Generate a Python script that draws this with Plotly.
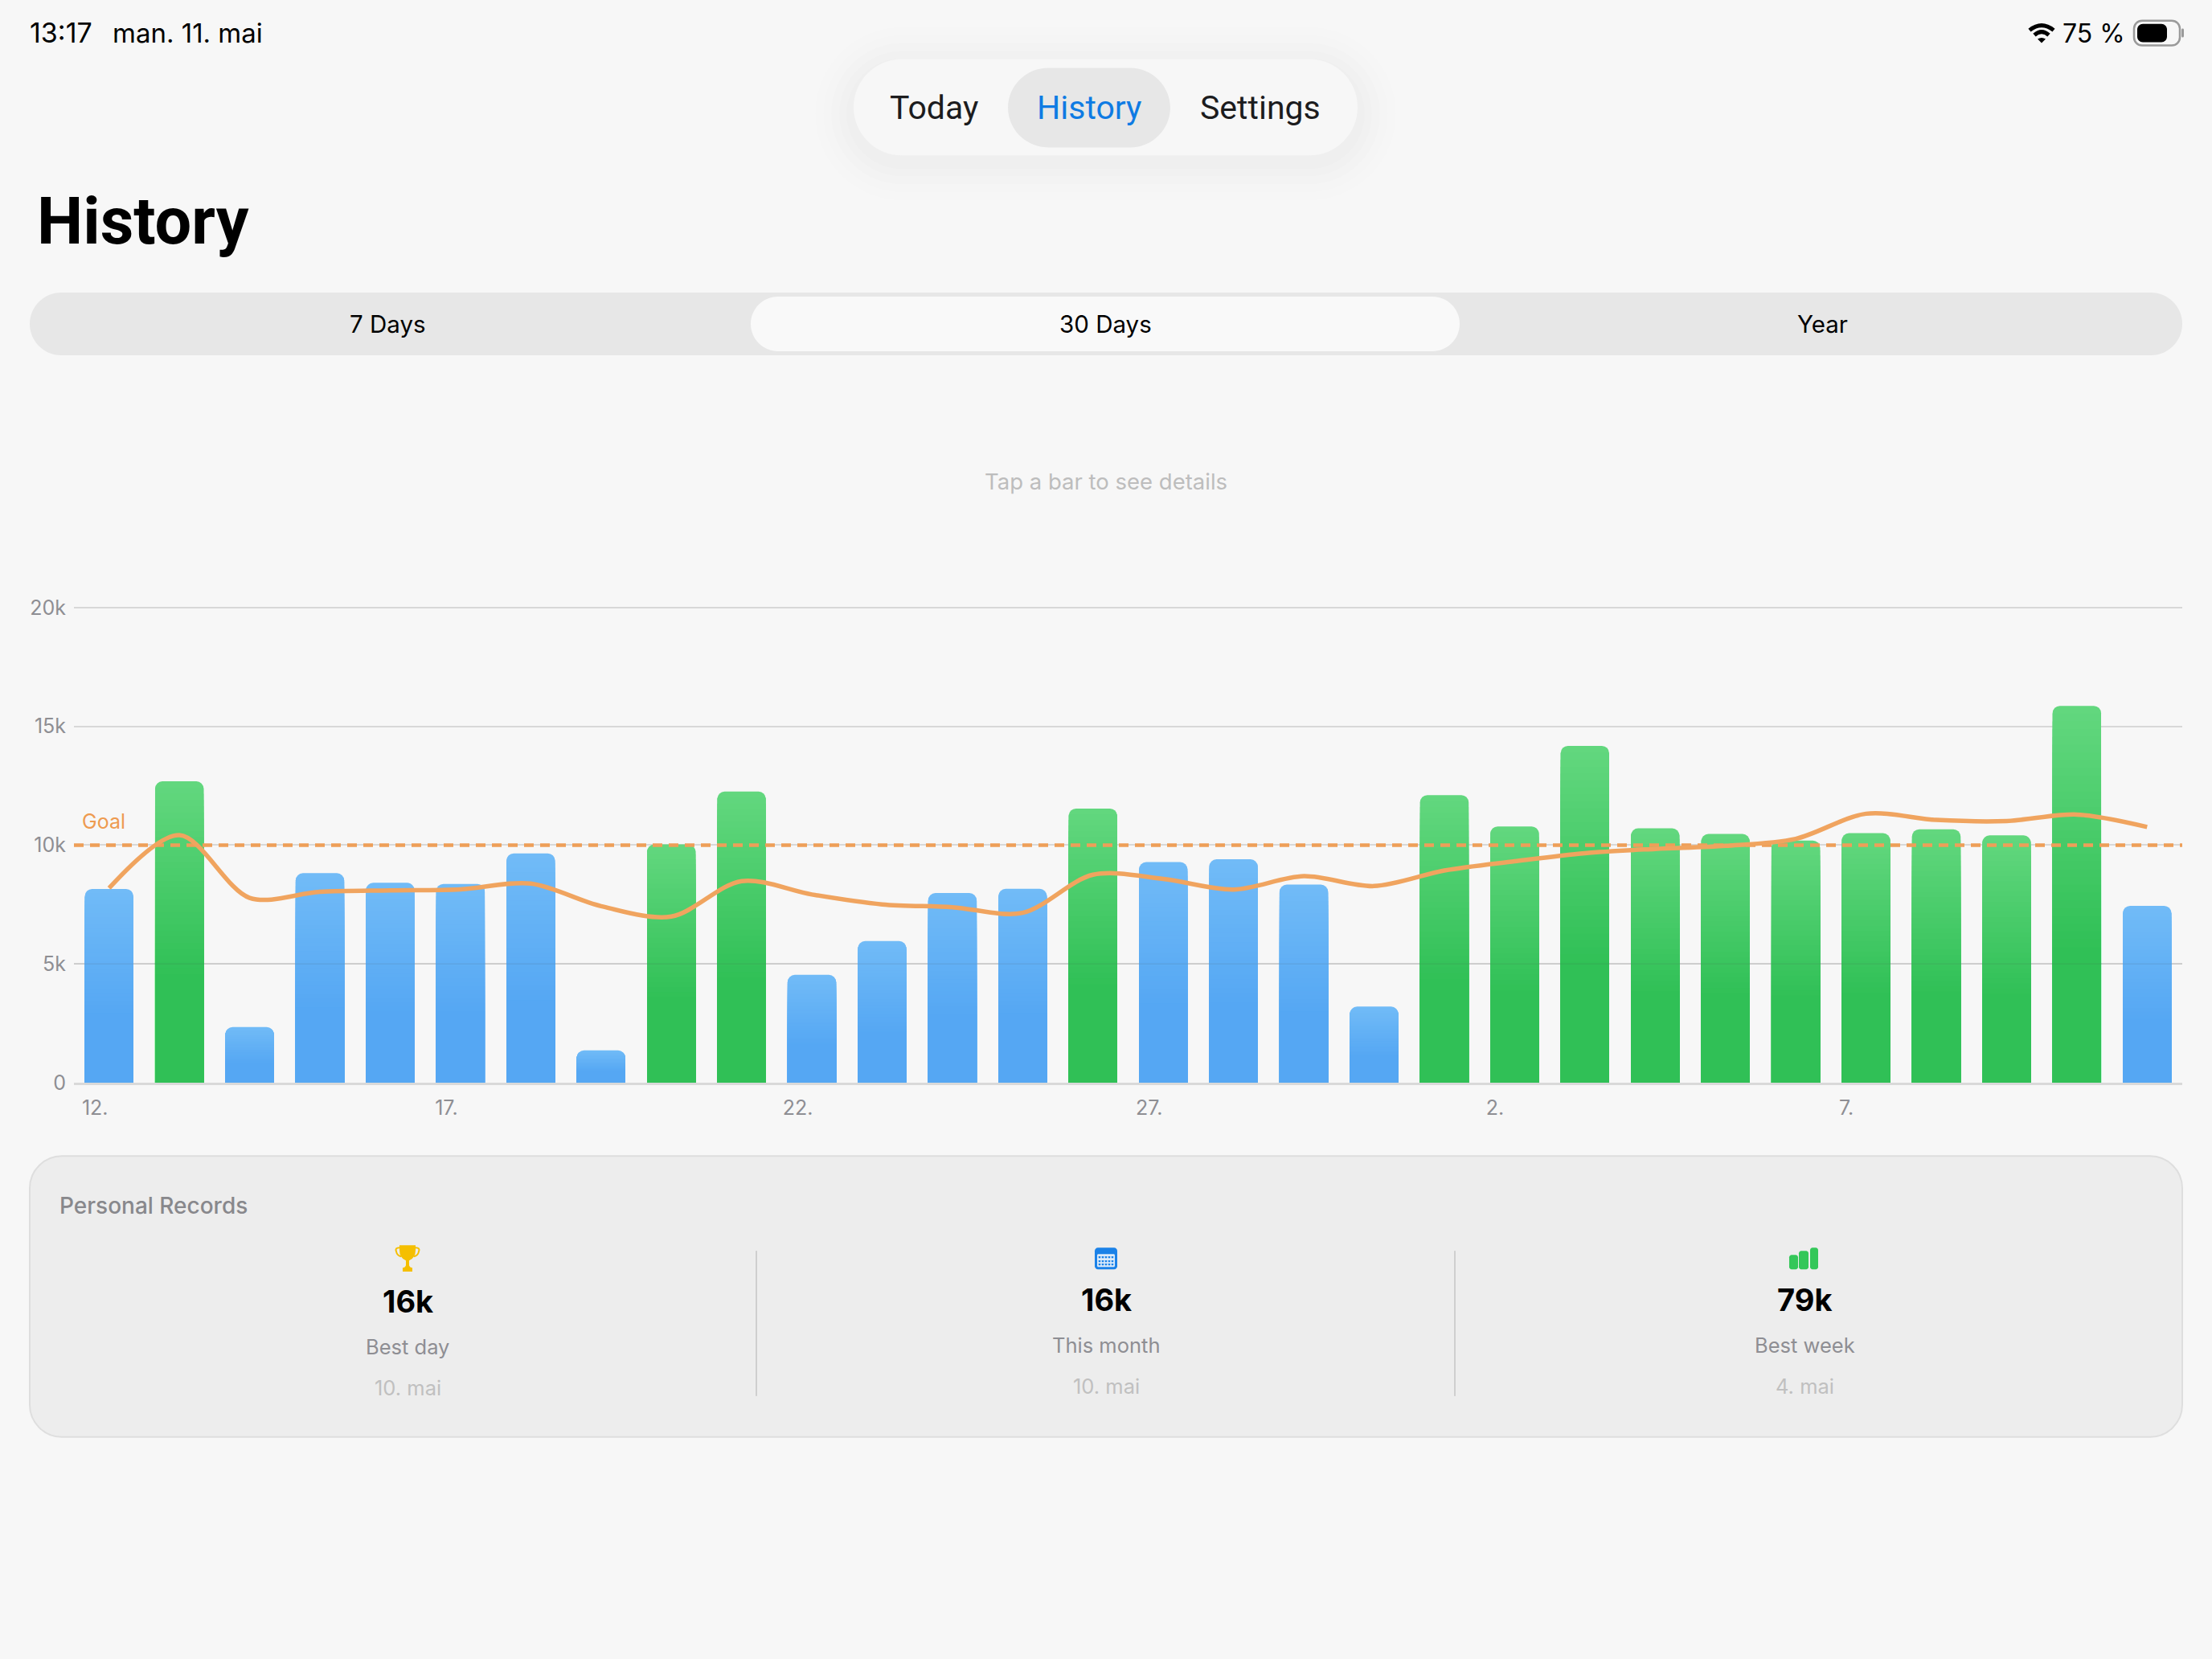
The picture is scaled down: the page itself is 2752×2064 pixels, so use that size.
import plotly.graph_objects as go

# ---- data ----
days = ["12. apr", "13. apr", "14. apr", "15. apr", "16. apr", "17. apr", "18. apr", "19. apr", "20. apr", "21. apr",
        "22. apr", "23. apr", "24. apr", "25. apr", "26. apr", "27. apr", "28. apr", "29. apr", "30. apr", "1. mai",
        "2. mai", "3. mai", "4. mai", "5. mai", "6. mai", "7. mai", "8. mai", "9. mai", "10. mai", "11. mai"]
steps = [8157, 12689, 2341, 8822, 8414, 8369, 9653, 1360, 10030, 12255,
         4540, 5964, 7982, 8160, 11543, 9288, 9406, 8338, 3205, 12107,
         10790, 14180, 10707, 10470, 10197, 10505, 10671, 10410, 15865, 7446]
trend = [8190, 10423, 7780, 8036, 8097, 8142, 8384, 7432, 6994, 8487,
         7923, 7507, 7389, 7151, 8754, 8576, 8130, 8694, 8279, 8932,
         9320, 9663, 9841, 9972, 10268, 11323, 11062, 11015, 11287, 10766]
goal = 10000
y_ticks = [0, 5000, 10000, 15000, 20000]
y_tick_text = ["0", "5k", "10k", "15k", "20k"]
x_tick_days = ["12.", "17.", "22.", "27.", "2.", "7."]
x_tick_index = [0, 5, 10, 15, 20, 25]

W, H = 2752, 2064
Y_TOP = 20100
L, R, T, B = 92, 2715, 1347.5 - 592 * Y_TOP / 20000, 1347.5
FONT = "Inter"
FONT2 = "Roboto"
BG = "#F7F7F7"


def px(x):
    return (x - L) / (R - L)


def py(y):
    return (B - y) / (B - T)


def P(x, y):
    return f"{px(x):.6f},{py(y):.6f}"


def rr_path(x0, y0, x1, y1, r):
    k = r * 0.448
    return (f"M{P(x0 + r, y0)} L{P(x1 - r, y0)} C{P(x1 - k, y0)} {P(x1, y0 + k)} {P(x1, y0 + r)} "
            f"L{P(x1, y1 - r)} C{P(x1, y1 - k)} {P(x1 - k, y1)} {P(x1 - r, y1)} "
            f"L{P(x0 + r, y1)} C{P(x0 + k, y1)} {P(x0, y1 - k)} {P(x0, y1 - r)} "
            f"L{P(x0, y0 + r)} C{P(x0, y0 + k)} {P(x0 + k, y0)} {P(x0 + r, y0)} Z")


shapes = []


def add_rr(x0, y0, x1, y1, r, fill, line=None, lw=0):
    shapes.append(dict(type="path", path=rr_path(x0, y0, x1, y1, r), xref="paper", yref="paper",
                       fillcolor=fill, line=dict(color=line or "rgba(0,0,0,0)", width=lw), layer="below"))


def add_path(cmds, fill=None, line=None, lw=0):
    shapes.append(dict(type="path", path=cmds, xref="paper", yref="paper",
                       fillcolor=fill or "rgba(0,0,0,0)", line=dict(color=line or "rgba(0,0,0,0)", width=lw),
                       layer="below"))


annotations = []


def text(x, y, s, size, color, anchor="center", weight=400, family=FONT):
    annotations.append(dict(x=px(x), y=py(y), xref="paper", yref="paper", text=s, showarrow=False,
                            xanchor=anchor, yanchor="middle", borderpad=0, borderwidth=0,
                            font=dict(family=family, size=size, color=color, weight=weight)))


# status bar
text(37, 39, "13:17", 34, "#000000", "left")
text(140, 39, "man. 11. mai", 33, "#000000", "left")
text(2566, 40, "75 %", 32, "#000000", "left")
add_path(f"M{P(2525, 36)} Q{P(2540, 24)} {P(2555, 36)}", line="#000000", lw=5)
add_path(f"M{P(2531, 42)} Q{P(2540, 34)} {P(2549, 42)}", line="#000000", lw=5)
add_path(f"M{P(2535, 47)} Q{P(2540, 44)} {P(2545, 47)} L{P(2540, 52)} Z", fill="#000000")
add_rr(2655, 24, 2712, 55, 10, "rgba(0,0,0,0)", "#9A9A9A", 2.5)
add_rr(2659, 28, 2696, 51, 7, "#000000")
add_rr(2714, 34, 2717, 45, 1.5, "#9A9A9A")

# floating tab bar
for grow, a in [(48, 0.004), (38, 0.005), (28, 0.006), (18, 0.007), (9, 0.008)]:
    add_rr(1062 - grow, 72 - grow + 8, 1689 + grow, 192 + grow + 8, 60 + grow, f"rgba(0,0,0,{a})")
add_rr(1062, 72, 1689, 192, 60, BG)
add_rr(1254, 83, 1456, 182, 50, "#E7E7E7")
text(1162, 133, "Today", 41, "#1C1C1E", family=FONT2)
text(1355, 133, "History", 41, "#0F7BE3", family=FONT2)
text(1568, 133, "Settings", 41, "#1C1C1E", family=FONT2)

# title
text(46, 274, "History", 81, "#000000", "left", weight=700, family=FONT2)

# segmented control
add_rr(37, 363, 2715, 441, 39, "#E7E7E7")
add_rr(934, 368, 1816, 436, 34, "#F9F9F9")
text(482, 402, "7 Days", 29.5, "#000000")
text(1375, 402, "30 Days", 29.5, "#000000")
text(2267, 402, "Year", 29.5, "#000000")

text(1376, 598, "Tap a bar to see details", 27.5, "#BDBDBD")
text(102, 1022, "Goal", 25, "#EE9B50", "left")

# records card
add_rr(37, 1439, 2715, 1789, 40, "#EDEDED", "#DEDEDE", 2)
text(74, 1501, "Personal Records", 28, "#88888C", "left", weight=500)
for x in (941, 1810):
    add_path(f"M{P(x, 1557)} L{P(x, 1738)}", line="#CFCFCF", lw=2)

gold = "#F5BF00"
add_path(f"M{P(497, 1550)} L{P(517, 1550)} L{P(517, 1556)} Q{P(517, 1566)} {P(509, 1569)} L{P(509, 1575)} "
         f"Q{P(510, 1578)} {P(513, 1578)} L{P(513, 1583)} L{P(501, 1583)} L{P(501, 1578)} "
         f"Q{P(504, 1578)} {P(505, 1575)} L{P(505, 1569)} Q{P(497, 1566)} {P(497, 1556)} Z", fill=gold)
add_path(f"M{P(497, 1553)} Q{P(491, 1553)} {P(493, 1558)} Q{P(494, 1563)} {P(499, 1564)}", line=gold, lw=2)
add_path(f"M{P(517, 1553)} Q{P(523, 1553)} {P(521, 1558)} Q{P(520, 1563)} {P(515, 1564)}", line=gold, lw=2)

blue = "#1B82E8"
add_rr(1362, 1553, 1390, 1580, 4, blue)
add_rr(1365, 1561, 1387, 1577, 1.5, "#DCEBFA")
for gy in (1565, 1570, 1574):
    for gx in (1368, 1372, 1376, 1380, 1384):
        add_rr(gx - 1.2, gy - 1.2, gx + 1.2, gy + 1.2, 0.3, blue)

green = "#34C759"
add_rr(2226, 1562, 2237, 1580, 3, green)
add_rr(2238, 1557, 2250, 1580, 3, green)
add_rr(2252, 1553, 2262, 1580, 3, green)

for cx, dy, val, lab, dat in [(507, 2, "16k", "Best day", "10. mai"),
                              (1376, 0, "16k", "This month", "10. mai"),
                              (2245, 0, "79k", "Best week", "4. mai")]:
    text(cx, 1618 + dy, val, 38, "#000000", weight=700)
    text(cx, 1675 + dy, lab, 25.5, "#8E8E93")
    text(cx, 1726 + dy, dat, 25.5, "#C0C0C0")

# ---- chart ----
x = list(range(len(steps)))


def mix(c0, c1, t):
    return "rgb(" + ",".join(str(round(a + (b - a) * t)) for a, b in zip(c0, c1)) + ")"


GREEN_TOP, GREEN_BASE = (98, 215, 126), (48, 192, 86)
BLUE_TOP, BLUE_BASE = (113, 187, 247), (85, 167, 243)
N = 32
SOLID = 0.36
fig = go.Figure()
for k in range(N):
    t = k / (N - 1)
    frac = 1 - t * (1 - SOLID)
    fig.add_trace(go.Bar(
        x=x, y=[v * frac for v in steps], width=0.69,
        marker=dict(color=[mix(GREEN_TOP, GREEN_BASE, t) if v >= goal else mix(BLUE_TOP, BLUE_BASE, t) for v in steps],
                    line=dict(width=0), cornerradius=9),
        showlegend=False, hoverinfo="skip"))

fig.add_trace(go.Scatter(x=[-0.5, len(steps) - 0.5], y=[goal, goal], mode="lines",
                         line=dict(color="#EE9F58", width=4.5, dash="12px,8px"), showlegend=False, hoverinfo="skip"))
fig.add_trace(go.Scatter(x=x, y=trend, mode="lines", line=dict(color="#F0A45F", width=5.5, shape="spline", smoothing=0.9),
                         showlegend=False, hoverinfo="skip"))

# thin rule that shows through the bars
shapes.append(dict(type="line", xref="paper", yref="y", x0=0, x1=1, y0=5000, y1=5000,
                   line=dict(color="rgba(70,70,70,0.10)", width=1.5), layer="above"))


def tick_pos(i, lab):
    return i - (0.20 if len(lab) == 3 else 0.28)


fig.update_layout(
    width=W, height=H, autosize=False, margin=dict(l=L, r=W - R, t=T, b=H - B, pad=0),
    paper_bgcolor=BG, plot_bgcolor="rgba(0,0,0,0)", barmode="overlay", showlegend=False,
    font=dict(family=FONT), shapes=shapes, annotations=annotations,
    xaxis=dict(range=[-0.5, len(steps) - 0.5], showgrid=False, zeroline=False, showline=True,
               linecolor="#D9D9D9", linewidth=3, ticks="",
               tickvals=[tick_pos(i, l) for i, l in zip(x_tick_index, x_tick_days)], ticktext=x_tick_days,
               tickfont=dict(family=FONT, size=25, color="#8E8E93"), ticklabelstandoff=7),
    yaxis=dict(range=[0, Y_TOP], showgrid=True, gridcolor="#D8D8D8", gridwidth=2, zeroline=False, showline=False,
               ticks="", tickvals=y_ticks, ticktext=y_tick_text,
               tickfont=dict(family=FONT, size=25, color="#8E8E93"), ticklabelstandoff=9),
)

fig.write_html("out.html", config=dict(displayModeBar=False),
               post_script=f"document.body.style.margin='0';document.body.style.background='{BG}';")
